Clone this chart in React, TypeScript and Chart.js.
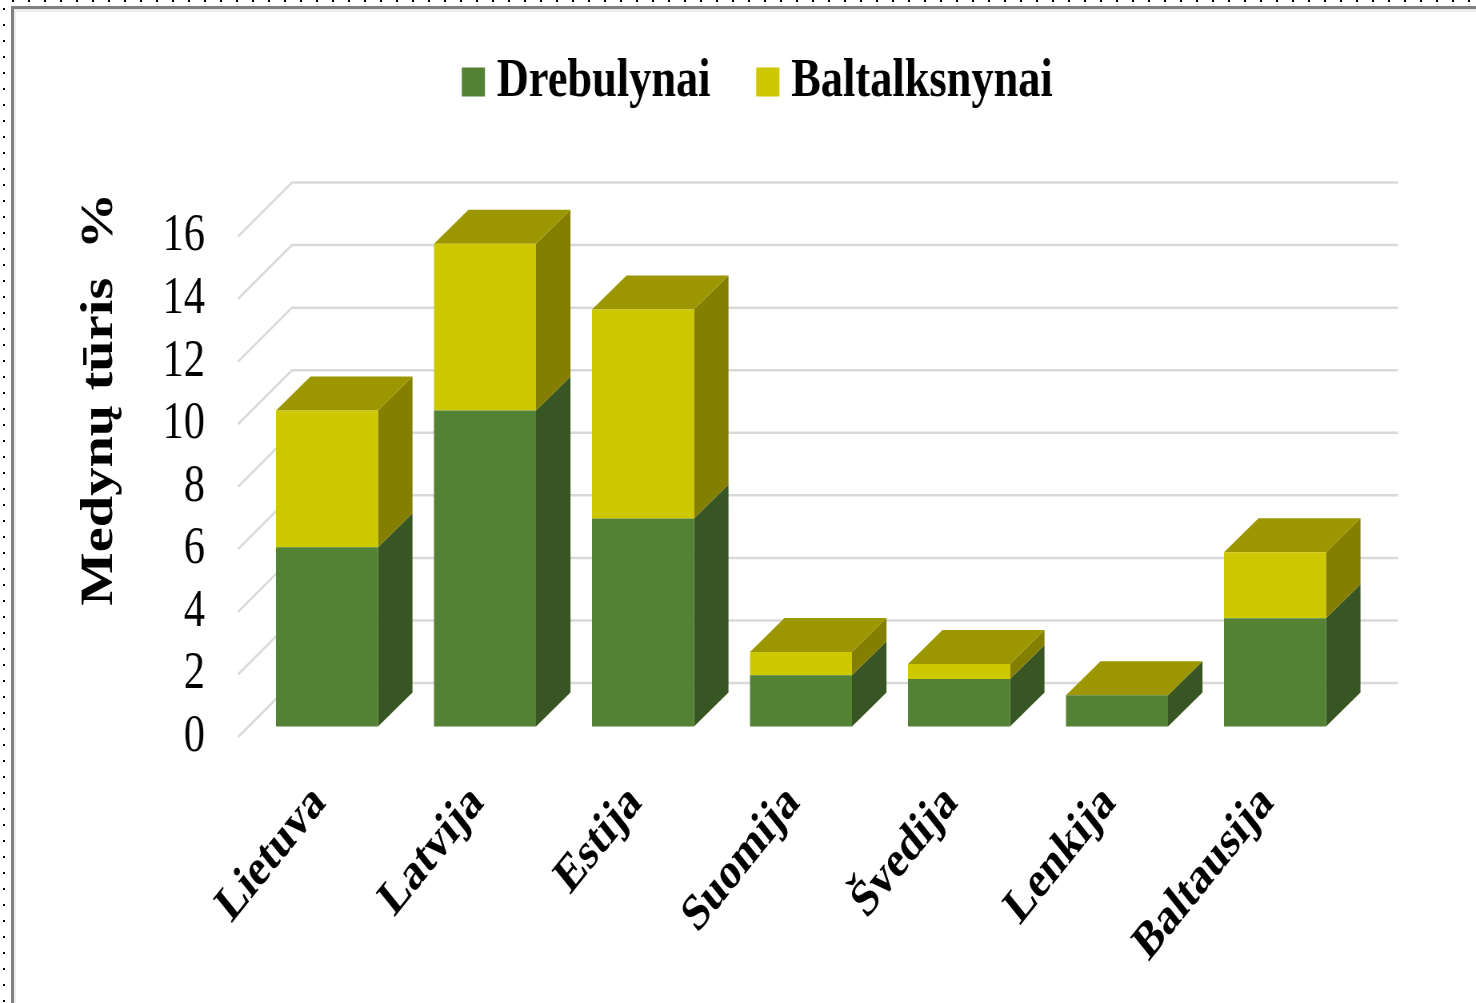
import React, { useEffect, useRef } from "react";
import { Chart, registerables } from "chart.js";

Chart.register(...registerables);

const categories = ["Lietuva", "Latvija", "Estija", "Suomija", "Švedija", "Lenkija", "Baltausija"];
const drebulynai = [5.73, 10.1, 6.65, 1.64, 1.52, 1.0, 3.46];
const baltalksnynai = [4.37, 5.33, 6.68, 0.74, 0.48, 0, 2.11];
const seriesNames = ["Drebulynai", "Baltalksnynai"];
const yTitle = "Medynų tūris  %";

const STRETCH = 0.8;
const W = 1476 / STRETCH;
const H = 1003;
const px = (v: number) => v / STRETCH;
const SERIF = "'Liberation Serif', serif";

const GRID = "#D9D9D9";
const FACES = [
  { front: "#548235", side: "#375623" },
  { front: "#CEC800", side: "#857F00" },
];
const TOP_FACE = "#9C9700";

const wall = { dx: px(54), dy: -54 };
const barShift = { dx: px(10), dy: -10.5 };
const barDepth = { dx: px(34.5), dy: -34 };

const cube3d = {
  id: "cube3d",
  afterLayout(chart: any) {
    const legend = chart.legend;
    const shiftX = px(756) + px(6.5) - (legend.left + legend.right) / 2;
    const shiftY = 52 - (legend.top + legend.bottom) / 2;
    legend.left += shiftX;
    legend.right += shiftX;
    legend.top += shiftY;
    legend.bottom += shiftY;
    const y = chart.scales.y;
    const drawTitle = y.drawTitle;
    y.drawTitle = function () {
      chart.ctx.save();
      chart.ctx.translate(0, -87.5);
      drawTitle.call(y);
      chart.ctx.restore();
    };
  },
  beforeDatasetsDraw(chart: any) {
    const { ctx, chartArea, scales } = chart;
    ctx.save();
    ctx.strokeStyle = GRID;
    scales.y.ticks.forEach((t: any) => {
      const yp = scales.y.getPixelForValue(t.value);
      ctx.lineWidth = 2.5;
      ctx.beginPath();
      ctx.moveTo(chartArea.left, yp);
      ctx.lineTo(chartArea.left + wall.dx, yp + wall.dy);
      ctx.lineTo(chartArea.right + wall.dx, yp + wall.dy);
      ctx.stroke();
    });
    ctx.restore();

    ctx.save();
    ctx.translate(barShift.dx, barShift.dy);
    const metas = chart.data.datasets.map((_: any, i: number) => chart.getDatasetMeta(i));
    categories.forEach((_, c) => {
      metas.forEach((meta: any, d: number) => {
        const b = meta.data[c];
        const r = b.x + b.width / 2;
        ctx.fillStyle = FACES[d].side;
        ctx.beginPath();
        ctx.moveTo(r, b.base);
        ctx.lineTo(r + barDepth.dx, b.base + barDepth.dy);
        ctx.lineTo(r + barDepth.dx, b.y + barDepth.dy);
        ctx.lineTo(r, b.y);
        ctx.closePath();
        ctx.fill();
      });
      const top = metas[metas.length - 1].data[c];
      const l = top.x - top.width / 2;
      const r = top.x + top.width / 2;
      ctx.fillStyle = TOP_FACE;
      ctx.beginPath();
      ctx.moveTo(l, top.y);
      ctx.lineTo(l + barDepth.dx, top.y + barDepth.dy);
      ctx.lineTo(r + barDepth.dx, top.y + barDepth.dy);
      ctx.lineTo(r, top.y);
      ctx.closePath();
      ctx.fill();
    });
  },
  afterDatasetsDraw(chart: any) {
    chart.ctx.restore();
  },
};

const dotted = (dir: string) =>
  `repeating-linear-gradient(${dir},#000 0 2px,transparent 2px 16px)`;

export default function App() {
  const ref = useRef<HTMLCanvasElement>(null);
  useEffect(() => {
    document.body.style.margin = "0";
    document.documentElement.style.overflow = "hidden";
    const chart = new Chart(ref.current as HTMLCanvasElement, {
      type: "bar",
      data: {
        labels: categories,
        datasets: [
          { label: seriesNames[0], data: drebulynai, backgroundColor: FACES[0].front, clip: false },
          { label: seriesNames[1], data: baltalksnynai, backgroundColor: FACES[1].front, clip: false },
        ],
      } as any,
      plugins: [cube3d],
      options: {
        responsive: false,
        animation: false,
        layout: { padding: { top: 101, left: 0, right: W - px(1344), bottom: 0 } },
        datasets: { bar: { categoryPercentage: 1, barPercentage: 102 / 158 } },
        plugins: {
          tooltip: { enabled: false },
          legend: {
            position: "top",
            labels: {
              boxWidth: 3,
              boxHeight: 3,
              padding: 70,
              color: "#000",
              font: { family: SERIF, size: 55.5, weight: "bold" },
              generateLabels: (c: any) =>
                (Chart.defaults.plugins.legend.labels as any)
                  .generateLabels(c)
                  .map((l: any) => ({ ...l, lineWidth: 26, strokeStyle: l.fillStyle })),
            },
          },
        },
        scales: {
          x: {
            stacked: true,
            grid: { display: false, drawTicks: false },
            border: { display: false },
            afterFit: (s: any) => {
              s.height = H - 737;
            },
            ticks: {
              autoSkip: false,
              minRotation: 45,
              maxRotation: 45,
              labelOffset: 3,
              padding: 36,
              color: "#000",
              font: { family: SERIF, size: 51.5, weight: "bold" },
            },
          },
          y: {
            stacked: true,
            min: 0,
            max: 16,
            grid: { display: false, drawTicks: false },
            border: { display: false },
            afterFit: (s: any) => {
              s.width = px(238);
            },
            title: {
              display: true,
              text: yTitle,
              color: "#000",
              font: { family: SERIF, size: 56.5, weight: "bold" },
              padding: { top: 92, bottom: 0 },
            },
            ticks: {
              autoSkip: false,
              stepSize: 2,
              padding: px(33),
              color: "#000",
              font: { family: SERIF, size: 53 },
            },
          },
        },
      } as any,
    });
    return () => chart.destroy();
  }, []);

  return (
    <div style={{ position: "relative", width: 1476, height: 1003, overflow: "hidden", background: "#fff" }}>
      <div style={{ position: "absolute", left: 12, top: 0, right: 0, height: 2, backgroundImage: dotted("90deg") }} />
      <div style={{ position: "absolute", left: 3, top: 8, bottom: 0, width: 2, backgroundImage: dotted("180deg") }} />
      <div style={{ position: "absolute", left: 11, top: 6, right: 0, height: 3, background: "#808080" }} />
      <div style={{ position: "absolute", left: 11, top: 6, bottom: 0, width: 3, background: "#808080" }} />
      <div style={{ position: "absolute", left: 14, top: 9, right: 0, height: 3, background: "#EDEDED" }} />
      <div style={{ position: "absolute", left: 14, top: 9, bottom: 0, width: 2, background: "#EDEDED" }} />
      <div style={{ position: "absolute", left: 0, top: 0, width: W, height: H, transform: `scale(${STRETCH},1)`, transformOrigin: "0 0" }}>
        <canvas ref={ref} width={W} height={H} style={{ display: "block" }} />
      </div>
    </div>
  );
}
